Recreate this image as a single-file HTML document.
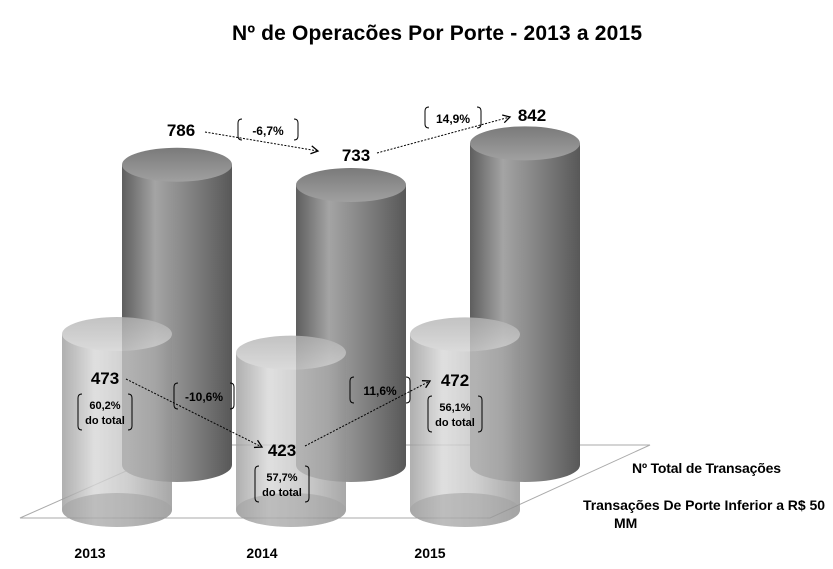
<!DOCTYPE html>
<html><head><meta charset="utf-8"><style>
body{margin:0;background:#fff;}
svg{display:block;font-family:"Liberation Sans",sans-serif;}
</style></head><body>
<svg id="chart" width="833" height="569" viewBox="0 0 833 569">
<defs>
<linearGradient id="gBack" x1="0" x2="1" y1="0" y2="0">
<stop offset="0" stop-color="#5e5e5e"/><stop offset="0.3" stop-color="#a4a4a4"/><stop offset="0.55" stop-color="#8a8a8a"/><stop offset="1" stop-color="#585858"/></linearGradient>
<linearGradient id="gBackTop" x1="0" x2="0" y1="0" y2="1">
<stop offset="0" stop-color="#7a7a7a"/><stop offset="1" stop-color="#a0a0a0"/></linearGradient>
<linearGradient id="gFront" x1="0" x2="1" y1="0" y2="0">
<stop offset="0" stop-color="#9c9c9c"/><stop offset="0.3" stop-color="#d8d8d8"/><stop offset="0.6" stop-color="#c4c4c4"/><stop offset="1" stop-color="#929292"/></linearGradient>
<linearGradient id="gFrontTop" x1="0" x2="0" y1="0" y2="1">
<stop offset="0" stop-color="#b4b4b4"/><stop offset="1" stop-color="#d2d2d2"/></linearGradient>
<marker id="arr" markerWidth="10" markerHeight="10" refX="8" refY="5" orient="auto" markerUnits="userSpaceOnUse">
<path d="M1,1 L8,5 L1,9" fill="none" stroke="#000" stroke-width="1.3"/></marker>
</defs>
<text x="437" y="40" text-anchor="middle" font-size="21" font-weight="bold" textLength="410">Nº de Operacões Por Porte  - 2013 a 2015</text>
<polygon points="20,518 490,518 650,445 185,445" fill="#fff" stroke="#aaa" stroke-width="1"/>
<g id="back"></g>
<g id="front"></g>
<g id="ann"></g>
<text x="632" y="473" font-size="14" font-weight="bold" textLength="149">Nº Total de Transações</text>
<text x="583" y="510" font-size="14" font-weight="bold" textLength="242">Transações De Porte Inferior a R$ 50</text>
<text x="614" y="528" font-size="14" font-weight="bold">MM</text>
</svg>
<script>
const categories=["2013","2014","2015"];
const totalValues=[786,733,842];
const inferiorValues=[473,423,472];
const totalLabels=["786","733","842"];
const inferiorLabels=["473","423","472"];
const shareLabels=["60,2%","57,7%","56,1%"];
const totalChange=["-6,7%","14,9%"];
const inferiorChange=["-10,6%","11,6%"];

const NS="http://www.w3.org/2000/svg";
function mk(tag,attrs,parent){const e=document.createElementNS(NS,tag);for(const k in attrs)e.setAttribute(k,attrs[k]);parent.appendChild(e);return e;}
const scale=0.382;
function yBack(v){return 465-v*scale;}
function yFront(v){return 510-v*0.372;}
function xBack(i){return 177+i*174;}
function xFront(i){return 117+i*174;}
const RX=55,RY=17;

function cyl(g,cx,yTop,yBot,body,top,op,name){
  const grp=mk('g',{opacity:op},g);
  
  
  mk('path',{d:`M${cx-RX},${yTop} L${cx-RX},${yBot} A${RX},${RY} 0 0 0 ${cx+RX},${yBot} L${cx+RX},${yTop} Z`,fill:body},grp);
  mk('ellipse',{cx:cx,cy:yTop,rx:RX,ry:RY,fill:top},grp);
  return grp;
}
const back=document.getElementById('back'),front=document.getElementById('front'),ann=document.getElementById('ann');
categories.forEach((c,i)=>{
  cyl(back,xBack(i),yBack(totalValues[i]),465,'url(#gBack)','url(#gBackTop)',1,'bar-total-'+c);
});
categories.forEach((c,i)=>{
  const g=cyl(front,xFront(i),yFront(inferiorValues[i]),510,'url(#gFront)','url(#gFrontTop)',0.8,'bar-inferior-'+c);
  mk('ellipse',{cx:xFront(i),cy:510,rx:RX,ry:RY,fill:'#8a8a8a',opacity:0.55},g);
  const t=mk('text',{x:(i==0?90:i==1?262:430),y:558,'font-size':14,'font-weight':'bold','text-anchor':'middle'},front);
  t.textContent=c;
  
  
});
function label(x,y,txt,size,name){
  const t=mk('text',{x:x,y:y,'font-size':size,'font-weight':'bold','text-anchor':'middle'},ann);
  t.textContent=txt;
  
  
  return t;
}
function brackets(x1,y1,x2,y2,name){
  const g=mk('g',{fill:'none',stroke:'#000','stroke-width':1},ann);
  
  
  mk('path',{d:`M${x1+4},${y1} Q${x1},${y1} ${x1},${y1+4} L${x1},${y2-4} Q${x1},${y2} ${x1+4},${y2}`},g);
  mk('path',{d:`M${x2-4},${y1} Q${x2},${y1} ${x2},${y1+4} L${x2},${y2-4} Q${x2},${y2} ${x2-4},${y2}`},g);
}
function arrow(x1,y1,x2,y2,name){
  const l=mk('line',{x1:x1,y1:y1,x2:x2,y2:y2,stroke:'#000','stroke-width':1,'stroke-dasharray':'2,1.5','marker-end':'url(#arr)'},ann);
  
  
}
const totPos=[[181,136],[356,161],[532,121]];
totalLabels.forEach((s,i)=>{label(totPos[i][0],totPos[i][1],s,17,'total-value-'+categories[i]);});
arrow(205,132,318,151,'arrow-total-1');
arrow(377,153,510,117,'arrow-total-2');
brackets(238,119,298,140,'bracket-total-change-1');
label(268,135,totalChange[0],12,'total-change-1');
brackets(425,107,481,128,'bracket-total-change-2');
label(453,123,totalChange[1],12,'total-change-2');
const infPos=[[105,384],[282,456],[455,386]];
inferiorLabels.forEach((s,i)=>{
  label(infPos[i][0],infPos[i][1],s,17,'inferior-value-'+categories[i]);
  const bx=infPos[i][0],by=infPos[i][1]+10;
  brackets(bx-27,by,bx+27,by+36,'bracket-share-'+categories[i]);
  label(bx,by+15,shareLabels[i],11,'share-'+categories[i]);
  label(bx,by+30,'do total',11,'share-text-'+categories[i]);
});
arrow(126,379,262,447,'arrow-inferior-1');
arrow(305,446,430,381,'arrow-inferior-2');
brackets(174,383,234,409,'bracket-inferior-change-1');
label(204,401,inferiorChange[0],12,'inferior-change-1');
brackets(350,377,410,403,'bracket-inferior-change-2');
label(380,395,inferiorChange[1],12,'inferior-change-2');
</script>
</body></html>
